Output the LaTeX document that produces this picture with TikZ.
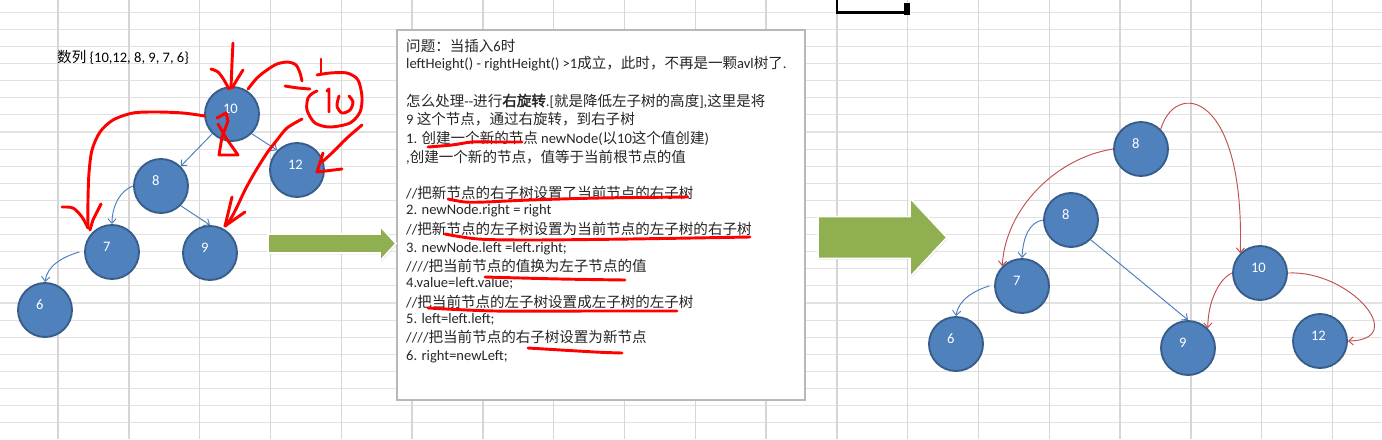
\documentclass[tikz,border=0pt]{standalone}
\usepackage{fontspec}
\setmainfont{Carlito}
\newfontfamily\zhfont{Noto Sans CJK SC}[AutoFakeBold=2]
\usetikzlibrary{arrows.meta,shadows}
\usepackage{xcolor}
\definecolor{NodeBlue}{HTML}{4F81BD}
\definecolor{NodeRim}{HTML}{385D8A}
\definecolor{EdgeBlue}{HTML}{4A7EBB}
\definecolor{EdgeRed}{HTML}{C0504D}
\definecolor{PenRed}{HTML}{FF0000}
\definecolor{Olive}{HTML}{8FAF50}
\definecolor{GridGray}{HTML}{D6D6D6}

\begin{document}
\begin{tikzpicture}[
    x=0.03cm, y=-0.03cm,
    bnode/.style={circle, fill=NodeBlue, draw=NodeRim, line width=1.6pt,
                  minimum size=1.62cm, inner sep=0pt, text=white,
                  text width=0.54cm, align=left, text depth=0.3cm,
                  font=\fontsize{12.4}{14}\selectfont},
    bluearr/.style={draw=EdgeBlue, line width=0.8pt, -{Straight Barb[length=4pt,width=7pt]}},
    redarr/.style={draw=EdgeRed, line width=0.8pt, -{Straight Barb[length=4pt,width=7pt]}},
    pen/.style={draw=PenRed, line width=2.5pt, line cap=round, line join=round},
    vline/.style={draw=GridGray, line width=1.2pt},
    hline/.style={draw=GridGray!70, line width=0.9pt},
    txt/.style={anchor=base west, inner sep=0pt, text=black!85,
                font=\fontsize{12.4}{15}\selectfont},
    garrow/.style={fill=Olive, draw=white, line width=1.5pt,
                   drop shadow={opacity=0.2, shadow xshift=0.8pt, shadow yshift=-1.2pt}}
  ]
    \useasboundingbox (0,0) rectangle (1382,439);
    \fill[white] (0,0) rectangle (1382,439);

    % sheet grid
    \foreach \r in {0,...,24}
      \draw[hline] (0,{12.3+17.1*\r}) -- (1382,{12.3+17.1*\r});
    \foreach \c in {0,...,18}
      \draw[vline] ({58+70.8*\c},0) -- ({58+70.8*\c},439);

    % selected cell
    \draw[line width=2.4pt] (837,0) -- (837,12.5) -- (905,12.5);
    \fill (904,3) rectangle (910,15);

    \node[txt, text=black] (seq) at (57,62) {{\zhfont 数列} \{10,12, 8, 9, 7, 6\}};

    % tree before rotation
    \node[bnode] (l10) at (232,114) {10};
    \node[bnode] (l8)  at (161,186) {8};
    \node[bnode] (l12) at (297,170) {12};
    \node[bnode] (l7)  at (112,252) {7};
    \node[bnode] (l9)  at (210,253) {9};
    \node[bnode] (l6)  at (45,310)  {6};

    \draw[bluearr] (l10.south west) -- (l8.north east);
    \draw[bluearr] (l10.south east) -- (l12.north west);
    \draw[bluearr] (l8.west) .. controls (121,190) and (112,205) .. (l7.north);
    \draw[bluearr] (l8.south east) -- (l9.north);
    \draw[bluearr] ([xshift=-4pt]l7.west) .. controls (62,257) and (47,266) .. (l6.north);

    % hand notes
    \draw[pen] plot[smooth] coordinates {(233,43) (232,63) (231,88)};
    \draw[pen] plot[smooth] coordinates {(211,69) (218,72) (224,80) (229,89)};
    \draw[pen] plot[smooth] coordinates {(243,70) (238,78) (232,88)};
    \draw[pen] plot[smooth] coordinates {(205,116) (183,113) (157,112) (133,113) (113,120)
                                         (100,132) (92,150) (89,173) (88,200) (88,228)};
    \draw[pen] plot[smooth] coordinates {(62,207) (73,208) (82,217) (88,228)};
    \draw[pen] plot[smooth] coordinates {(101,204) (97,212) (93,220) (90,230)};
    \draw[pen] plot[smooth] coordinates {(248,89) (257,78) (267,70) (277,64) (288,62)
                                         (296,65) (300,73) (302,81)};
    \draw[pen] plot[smooth] coordinates {(285,86) (298,88) (310,89)};
    \draw[pen] (321,59) -- (321,73);
    \draw[pen] plot[smooth] coordinates {(317,75) (330,73) (347,73) (358,80) (362,97) (360,112)
                                         (350,123) (330,127) (315,123) (307,110) (308,98) (313,93) (317,91)};
    \draw[pen] (327,91) -- (329,89) -- (329,112);
    \draw[pen] plot[smooth] coordinates {(339,96) (337,106) (342,113) (350,110) (353,102) (349,96)};
    \draw[pen] plot[smooth] coordinates {(302,119) (287,128) (277,140) (267,153) (255,172)
                                         (245,190) (237,207) (230,220) (225,226)};
    \draw[pen] (232,197) -- (225,226) -- (245,212);
    \draw[pen] plot[smooth] coordinates {(362,125) (347,138) (333,152) (322,162)};
    \draw[pen] (323,153) -- (317,172) -- (342,169);
    \draw[pen] (217,118) -- (226,113) -- (228,121) -- (222,137) -- (219,155) -- (238,155)
               -- (226,138) -- (218,124);

    % notes box
    \filldraw[fill=white, draw=black!28, line width=1.2pt,
              drop shadow={opacity=0.15, shadow xshift=1pt, shadow yshift=-1pt}]
      (397,30) rectangle (805,400);

    \node[txt] (t1)  at (406,51)  {{\zhfont 问题：当插入}6{\zhfont 时}};
    \node[txt] (t2)  at (406,68)  {leftHeight() - rightHeight() >1{\zhfont 成立，此时，不再是一颗}avl{\zhfont 树了}.};
    \node[txt] (t4)  at (406,106) {{\zhfont 怎么处理}-{}-{\zhfont 进行\textbf{右旋转}}.[{\zhfont 就是降低左子树的高度}],{\zhfont 这里是将}};
    \node[txt] (t5)  at (406,124) {9 {\zhfont 这个节点，通过右旋转，到右子树}};
    \node[txt] (t6)  at (406,143) {1. {\zhfont 创建一个新的节点} newNode({\zhfont 以}10{\zhfont 这个值创建})};
    \node[txt] (t7)  at (406,162) {,{\zhfont 创建一个新的节点，值等于当前根节点的值}};
    \node[txt] (t9)  at (406,198) {//{\zhfont 把新节点的右子树设置了当前节点的右子树}};
    \node[txt] (t10) at (406,214) {2. newNode.right = right};
    \node[txt] (t11) at (406,234) {//{\zhfont 把新节点的左子树设置为当前节点的左子树的右子树}};
    \node[txt] (t12) at (406,252) {3. newNode.left =left.right;};
    \node[txt] (t13) at (406,271) {////{\zhfont 把当前节点的值换为左子节点的值}};
    \node[txt] (t14) at (406,287) {4.value=left.value;};
    \node[txt] (t15) at (406,307) {//{\zhfont 把当前节点的左子树设置成左子树的左子树}};
    \node[txt] (t16) at (406,323) {5. left=left.left;};
    \node[txt] (t17) at (406,342) {////{\zhfont 把当前节点的右子树设置为新节点}};
    \node[txt] (t18) at (406,360) {6. right=newLeft;};

    % underlines
    \draw[pen] plot[smooth] coordinates {(428,147) (452,145) (472,142) (495,142) (522,142)};
    \draw[pen] plot[smooth] coordinates {(448,199) (465,202) (485,202) (530,200) (600,198) (688,197)};
    \draw[pen] plot[smooth] coordinates {(445,234) (478,239) (530,240) (630,239) (750,237)};
    \draw[pen] plot[smooth] coordinates {(485,277) (560,279) (625,280)};
    \draw[pen] plot[smooth] coordinates {(428,308) (495,311) (595,311) (677,311)};
    \draw[pen] plot[smooth] coordinates {(528,348) (595,352) (622,353)};

    % green arrows
    \filldraw[garrow] (268,234) -- (380,234) -- (380,226) -- (396,243.5) -- (380,261)
                      -- (380,253) -- (268,253) -- cycle;
    \filldraw[garrow] (818,216.5) -- (910,216.5) -- (910,198) -- (947,237.5) -- (910,277)
                      -- (910,258.5) -- (818,258.5) -- cycle;

    % tree after rotation
    \node[bnode] (rt8) at (1141,149) {8};
    \node[bnode] (r8)  at (1071,220) {8};
    \node[bnode] (r7)  at (1022,286) {7};
    \node[bnode] (r6)  at (956,344)  {6};
    \node[bnode] (r9)  at (1188,348) {9};
    \node[bnode] (r10) at (1260,273) {10};
    \node[bnode] (r12) at (1320,341) {12};

    \draw[bluearr] (r8.west) .. controls (1030,222) and (1023,236) .. (r7.north);
    \draw[bluearr] (r8.south east) -- (r9.north);
    \draw[bluearr] ([xshift=-4pt]r7.west) .. controls (975,290) and (958,300) .. (r6.north);
    \draw[redarr] (rt8.west) .. controls (1055,158) and (1005,210) .. (r7.north west);
    \draw[redarr] (rt8.north east) .. controls (1175,80) and (1245,90) .. (r10.north west);
    \draw[redarr] (r10.west) .. controls (1220,278) and (1208,300) .. (r9.north east);
    \draw[redarr] (r10.east) .. controls (1350,270) and (1410,340) .. (r12.east);
  \end{tikzpicture}
\end{document}
